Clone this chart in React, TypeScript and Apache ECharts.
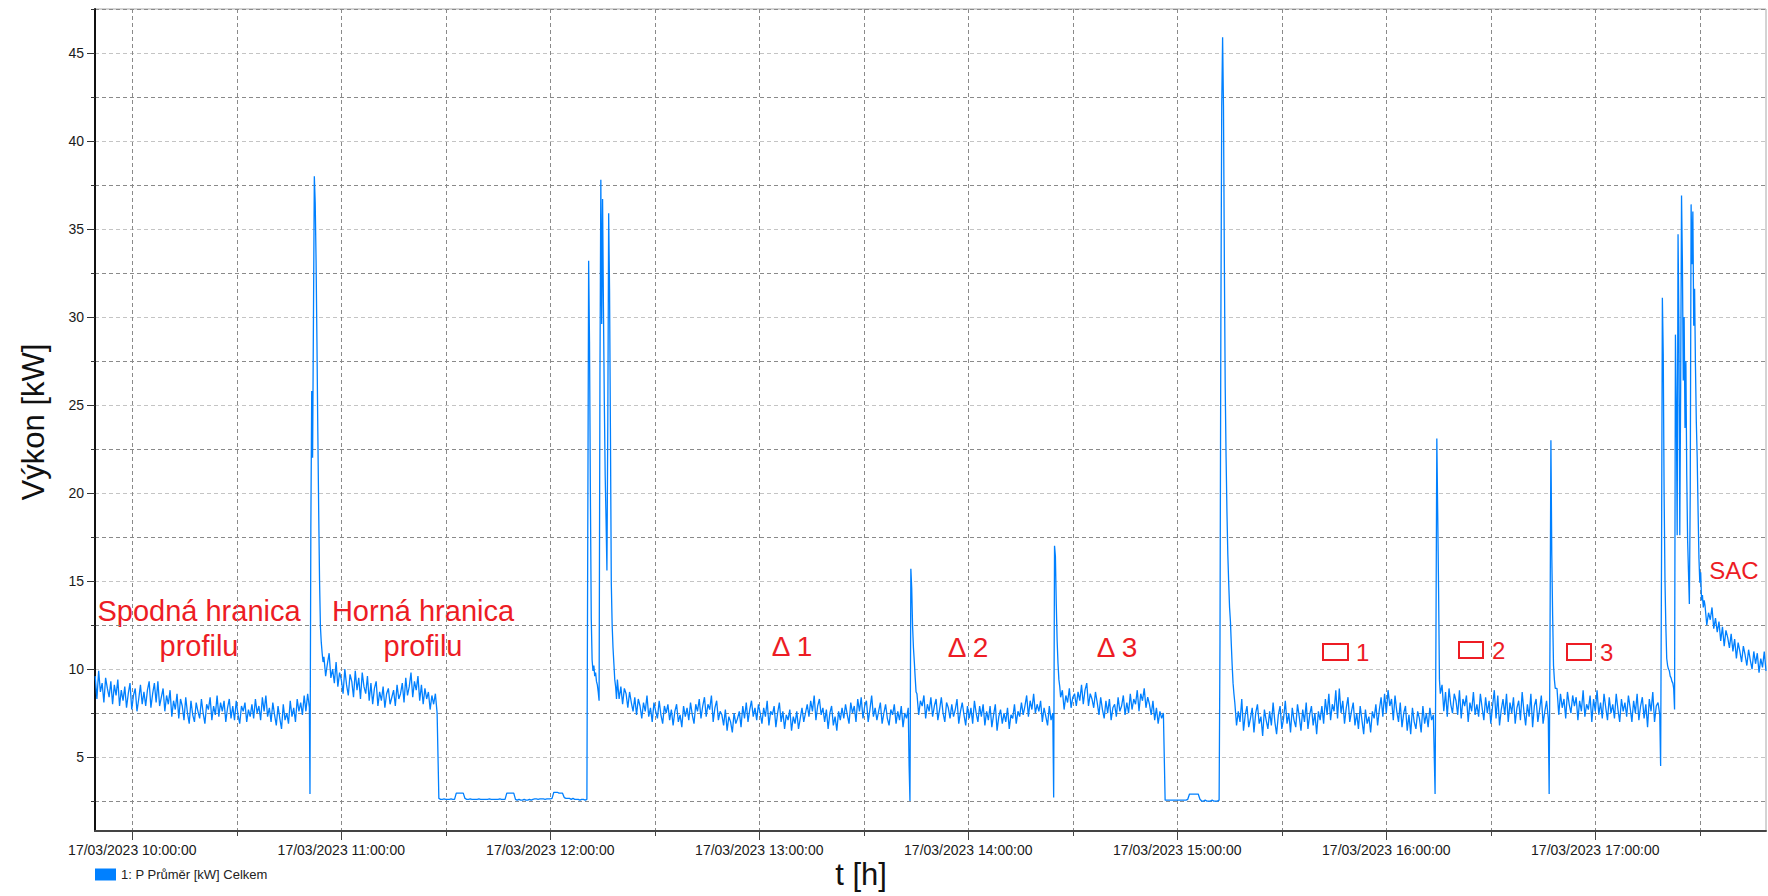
import React, { useEffect, useRef } from "react";
import * as echarts from "echarts";

const DATE_LABEL = "17/03/2023";
const SERIES_NAME = "1: P Průměr [kW] Celkem";
const Y_TITLE = "Výkon [kW]";
const X_TITLE = "t [h]";

const X_MIN = "09:49:17";
const X_MAX = "17:49:00";
const Y_MIN = 0.8;
const Y_MAX = 47.5;

const yTickValues = [2.5, 5, 7.5, 10, 12.5, 15, 17.5, 20, 22.5, 25, 27.5, 30, 32.5, 35, 37.5, 40, 42.5, 45, 47.5];
const yLabelValues = [5, 10, 15, 20, 25, 30, 35, 40, 45];
const xTickTimes = ["10:00", "10:30", "11:00", "11:30", "12:00", "12:30", "13:00", "13:30", "14:00", "14:30", "15:00", "15:30", "16:00", "16:30", "17:00", "17:30"];
const xLabelTimes = ["10:00", "11:00", "12:00", "13:00", "14:00", "15:00", "16:00", "17:00"];

// measured series, piece by piece (start clock, sample step in seconds, values in kW)
const bandA = [
  9.6, 8.3, 9.9, 8.7, 9.2, 8.1, 9.5, 8.9, 8.4, 9.3,
  8.0, 9.1, 8.5, 9.4, 7.9, 8.8, 8.2, 9.0, 7.8, 8.6,
  9.2, 7.7, 8.5, 8.9, 7.6, 8.3, 9.1, 8.0, 8.7, 7.9,
  8.8, 9.3, 7.8, 8.6, 9.2, 8.1, 9.3, 7.9, 8.4, 8.9,
  7.6, 8.5, 8.0, 8.8, 7.3, 8.2, 7.7, 8.6, 7.2, 8.3,
  7.9, 7.1, 8.4, 7.5, 6.9, 8.2, 7.4, 7.0, 8.1, 7.6,
  7.2, 8.3, 7.5, 6.9, 8.0, 7.7, 8.4, 7.1, 7.9, 7.4,
  8.5, 7.3, 8.1, 7.6, 8.2, 7.0, 7.8, 8.3, 7.2, 7.9,
  7.1, 8.2, 7.4, 6.9, 7.9, 7.6, 8.1, 7.0, 7.7, 7.3,
  8.0, 7.2, 8.3, 7.5, 7.9, 7.1, 8.4, 7.6, 8.5, 7.3,
  7.8, 7.0, 8.1, 7.4, 6.8, 7.9, 7.2, 6.6, 8.0, 7.1,
  7.5, 6.9, 8.2, 7.3, 7.8, 7.0, 8.3, 7.6, 8.1, 7.4,
  8.5, 7.6, 8.6, 7.8,
];
const spikeA = [2.9, 18.0, 25.8, 22.0, 30.0, 38.0, 36.5, 33.2, 28.6, 23.5, 19.0, 15.0, 12.4, 11.5, 10.9, 10.4];
const bandB = [
  10.7, 9.6, 10.3, 10.9, 9.5, 10.0, 9.2, 10.4, 9.0, 9.8,
  9.4, 8.6, 10.0, 9.1, 8.5, 9.7, 9.3, 8.4, 9.9, 8.8,
  9.5, 8.3, 9.8, 9.0, 8.6, 9.6, 8.2, 9.2, 8.0, 8.9,
  9.3, 7.9, 8.7, 8.2, 9.0, 7.8, 8.6, 8.9, 8.0, 8.4,
  8.8, 7.9, 9.1, 8.3, 8.6, 9.2, 8.1, 9.5, 8.5, 9.0,
  9.8, 8.4, 9.3, 8.8, 9.6, 8.2, 9.1, 8.0, 8.9, 8.3,
  8.7, 7.7, 8.5, 8.0, 8.6, 7.5,
];
const flatC = [
  2.65, 2.6, 2.6, 2.62, 2.6, 2.6, 2.6, 2.62, 2.6, 2.6,
  2.95, 2.95, 2.95, 2.95, 2.95, 2.65,
  2.6, 2.6, 2.62, 2.6, 2.6, 2.6, 2.6, 2.62, 2.6, 2.6, 2.6, 2.6, 2.6, 2.62, 2.6, 2.6, 2.6, 2.6, 2.6, 2.62, 2.6, 2.6, 2.6,
  2.95, 2.95, 2.95, 2.95, 2.95,
  2.6,
  2.55, 2.6, 2.55, 2.55, 2.6, 2.55, 2.55, 2.6, 2.55, 2.6,
  2.62, 2.62, 2.6, 2.62, 2.62, 2.62, 2.6, 2.62, 2.62, 2.62, 2.65,
  3.0, 3.0, 3.0, 2.95, 2.95, 2.95,
  2.7,
  2.65, 2.65, 2.65, 2.6, 2.65, 2.6, 2.6, 2.6, 2.55, 2.6, 2.6, 2.55, 2.6,
];
const spikeB = [
  17.7, 33.2, 28.6, 20.0, 12.9, 10.5, 9.9, 10.2, 9.6, 9.8,
  9.3, 9.1, 8.7, 8.2, 26.7, 37.8, 29.6, 36.7, 30.5, 25.2,
  21.0, 18.5, 15.6, 24.0, 35.9, 31.6, 23.7, 14.9, 12.5, 11.2,
  10.3, 9.4, 9.0, 8.3,
];
const bandD = [
  9.4, 8.3, 9.0, 8.0, 8.9, 8.6, 7.8, 8.7, 8.1, 7.6,
  8.4, 7.4, 8.3, 7.9, 7.2, 8.1, 7.6, 8.5, 7.3, 7.8,
  7.0, 8.1, 7.6, 7.2, 8.2, 7.4, 6.9, 7.9, 7.5, 8.0,
  7.1, 7.7, 6.8, 7.6, 8.0, 7.0, 7.4, 6.7, 7.9, 7.3,
  7.8, 7.1, 8.1, 7.4, 6.9, 8.0, 7.6, 8.3, 7.2, 7.9,
  8.4, 7.3, 8.0, 7.7, 8.5, 7.0, 7.8, 8.2, 7.1, 7.6,
  7.4, 6.8, 7.7, 6.5, 7.3, 7.0, 6.4, 7.5, 6.9, 7.2,
  7.6, 6.7, 7.9, 7.2, 8.1, 7.0, 7.7, 8.2, 7.3, 7.8,
  7.1, 8.0, 7.5, 6.9, 7.8, 7.3, 8.2, 6.8, 7.6, 7.4,
  7.9, 6.7, 7.5, 8.1, 7.0, 7.6, 6.6, 7.4, 7.1, 7.7,
  6.5, 7.3, 6.9, 7.6, 6.6, 7.2, 7.8, 7.0, 7.5, 8.0,
  7.3, 8.2, 7.6, 8.5, 7.1, 7.9, 8.3, 7.4, 7.8, 7.0,
  7.7, 6.6, 7.5, 7.9, 6.8, 7.3, 6.5, 7.6, 7.1, 7.8,
  7.2, 8.0, 7.4, 6.9, 8.1, 7.5, 7.9, 7.0, 8.3, 7.6,
  8.4, 7.2, 7.9, 8.2, 7.0, 7.7, 8.5, 7.3, 7.8, 7.1,
  7.6, 8.1, 6.9, 7.5, 8.0, 7.2, 6.8, 7.7, 7.4, 8.0,
  6.9, 7.6, 7.1, 7.9, 6.7, 7.5, 7.2, 7.8,
];
const spikeC = [4.5, 2.5, 15.7, 14.6, 12.4, 11.2, 10.4, 9.5, 8.7];
const bandE = [
  8.6, 7.4, 8.2, 7.9, 8.5, 7.2, 8.0, 7.6, 8.4, 7.3,
  7.9, 8.3, 7.1, 7.7, 8.4, 7.5, 7.0, 8.1, 7.8, 7.2,
  8.0, 7.3, 7.7, 8.3, 6.9, 7.6, 8.1, 7.4, 6.8, 7.9,
  7.2, 7.8, 6.9, 8.2, 7.5, 7.0, 7.9, 7.3, 8.0, 6.8,
  7.6, 7.1, 7.9, 6.7, 7.4, 8.0, 6.5, 7.3, 7.7, 6.9,
  7.5, 7.0, 7.8, 6.6, 7.4, 7.2, 8.0, 6.9, 7.6, 7.3,
  8.1, 7.4, 7.9, 8.5, 7.3, 8.2, 7.7, 8.6, 7.5, 8.0,
  7.6, 8.2, 7.0, 7.8, 7.3, 6.8, 7.9, 7.1, 7.5,
];
const spikeD = [2.7, 17.0, 16.4, 13.7, 11.6, 10.3, 9.4, 9.0, 8.4];
const bandF = [
  8.8, 7.7, 8.5, 8.1, 8.9, 7.8, 8.4, 8.6, 7.9, 8.7,
  8.2, 9.1, 8.0, 8.8, 9.2, 7.9, 8.6, 8.3, 7.8, 8.7,
  8.1, 7.4, 8.4, 7.7, 7.2, 8.2, 7.5, 8.3, 7.1, 7.8,
  8.0, 7.3, 8.4, 7.6, 7.9, 8.5, 7.4, 8.1, 7.5, 8.6,
  7.7, 8.3, 8.0, 8.8, 7.6, 8.6, 8.2, 8.9, 7.8, 8.4,
  8.0, 7.4, 8.2, 7.1, 7.8, 6.9, 7.6, 7.2, 7.5,
];
const flatG = [
  2.55, 2.55, 2.55, 2.55, 2.55, 2.55, 2.55, 2.55, 2.55, 2.55, 2.55, 2.55, 2.55,
  2.6,
  2.9, 2.9, 2.9, 2.9, 2.9, 2.9,
  2.6,
  2.5, 2.5, 2.55, 2.5, 2.5, 2.5, 2.55, 2.5, 2.5, 2.5, 2.55,
];
const spikeF = [11.6, 29.6, 42.0, 45.9, 42.0, 33.2, 26.0, 22.0, 18.9, 16.5, 14.9, 13.5, 12.7, 11.4, 10.2, 9.2, 8.6];
const bandH = [
  8.1, 6.8, 7.6, 7.0, 8.3, 6.5, 7.4, 7.9, 6.7, 7.2,
  7.8, 6.4, 7.5, 8.0, 6.9, 7.3, 6.2, 7.7, 7.1, 6.6,
  7.6, 6.8, 8.1, 7.0, 6.3, 7.4, 7.9, 6.6, 7.2, 8.2,
  6.9, 7.5, 6.4, 7.8, 7.1, 6.7, 8.0, 7.3, 6.5, 7.7,
  7.0, 8.1, 6.6, 7.4, 7.9, 6.8, 7.5, 6.3, 7.6, 7.1,
  7.9, 6.9, 8.3, 7.4, 8.6, 7.1, 8.0, 7.6, 8.8, 7.2,
  8.9, 7.5, 8.2, 6.9, 7.8, 8.4, 7.0, 7.6, 8.1, 6.8,
  7.5, 6.6, 7.9, 7.1, 6.3, 7.7, 6.9, 7.3, 6.4, 7.6,
  7.2, 8.0, 6.8, 7.7, 8.4, 7.3, 8.6, 7.5, 8.8, 7.9,
  8.3, 7.1, 8.5, 7.6, 7.0, 8.1, 6.7, 7.5, 7.9, 6.5,
  7.4, 6.3, 7.8, 7.0, 6.6, 7.6, 7.2, 6.4, 7.9, 6.9,
  7.5, 6.7, 7.8, 7.1, 7.4,
];
const spikeH = [2.9, 12.0, 23.1, 18.9, 14.6, 9.4, 8.6];
const bandI = [
  9.1, 7.6, 8.7, 7.3, 8.9, 8.0, 7.5, 8.6, 8.2, 7.4,
  8.8, 7.2, 8.3, 7.9, 8.5, 7.0, 8.1, 7.6, 8.7, 7.4,
  8.0, 7.3, 8.6, 7.8, 7.1, 8.4, 7.5, 8.2, 6.9, 7.9,
  8.8, 7.2, 8.5, 6.8, 7.7, 8.3, 7.4, 8.6, 7.0, 8.1,
  7.5, 8.4, 6.9, 7.8, 8.2, 7.1, 8.7, 7.6, 6.8, 8.0,
  7.3, 8.6, 6.7, 7.9, 8.3, 7.0, 7.7, 8.5, 6.9, 7.6,
  8.2, 7.2,
];
const spikeJ = [2.9, 12.0, 23.0, 16.5, 13.0, 10.2, 9.4, 8.9];
const bandK = [
  8.9, 7.4, 8.6, 7.8, 8.3, 7.2, 8.7, 8.0, 7.5, 8.5,
  7.9, 8.4, 7.1, 8.2, 7.6, 8.8, 7.3, 8.0, 7.7, 8.5,
  7.0, 8.3, 7.6, 8.8, 7.4, 8.1, 7.2, 8.6, 7.8, 7.1,
  8.4, 7.5, 8.0, 7.2, 8.6, 7.7, 7.0, 8.3, 7.6, 8.1,
  7.3, 8.5, 7.8, 7.0, 8.2, 7.5, 8.6, 7.1, 7.9, 8.4,
  7.2, 8.0, 6.7, 8.3, 7.6, 8.7, 7.0, 7.9, 8.1, 7.4,
];
const spikeL = [
  4.5, 15.9, 31.1, 27.9, 20.0, 15.0, 12.4, 10.6, 10.2, 10.0,
  9.9, 9.6, 9.5, 9.3, 9.2, 8.9, 7.7, 29.0, 25.0, 17.6,
  34.7, 29.4, 17.6, 26.0, 36.9, 33.1, 26.4, 30.0, 23.7, 27.5,
  21.0, 17.3, 15.5, 13.7, 20.0, 36.4, 33.0, 36.0, 29.5, 31.6,
  27.2, 24.0, 22.0, 19.0, 16.3, 14.9, 15.5, 13.9, 14.2, 13.5,
  13.9,
];
const bandM = [
  13.6, 12.5, 13.2, 12.8, 13.5, 12.3, 12.9, 12.1, 12.7, 11.6,
  12.4, 11.3, 12.2, 11.8, 11.2, 12.0, 11.0, 11.7, 10.6, 11.5,
  11.0, 10.4, 11.3, 10.8, 10.2, 11.1, 10.5, 10.0, 11.0, 10.3,
  10.9, 9.8, 10.6, 10.1, 11.0, 9.9,
];

// noisy: true marks the 30 s pieces whose fast noise renders as a dense filled trace
const segments = [
  { start: "09:49:20", step: 30, values: bandA, noisy: true },
  { start: "10:51:00", step: 15, values: spikeA, noisy: false },
  { start: "10:55:00", step: 30, values: bandB, noisy: true },
  { start: "11:28:00", step: 30, values: flatC, noisy: false },
  { start: "12:10:45", step: 15, values: spikeB, noisy: false },
  { start: "12:19:15", step: 30, values: bandD, noisy: true },
  { start: "13:43:00", step: 15, values: spikeC, noisy: false },
  { start: "13:45:15", step: 30, values: bandE, noisy: true },
  { start: "14:24:30", step: 15, values: spikeD, noisy: false },
  { start: "14:27:00", step: 30, values: bandF, noisy: true },
  { start: "14:56:30", step: 30, values: flatG, noisy: false },
  { start: "15:12:15", step: 15, values: spikeF, noisy: false },
  { start: "15:16:30", step: 30, values: bandH, noisy: true },
  { start: "16:14:00", step: 15, values: spikeH, noisy: false },
  { start: "16:16:00", step: 30, values: bandI, noisy: true },
  { start: "16:46:45", step: 15, values: spikeJ, noisy: false },
  { start: "16:49:00", step: 30, values: bandK, noisy: true },
  { start: "17:18:45", step: 15, values: spikeL, noisy: false },
  { start: "17:31:30", step: 30, values: bandM, noisy: true },
];

function toMin(clock: string): number {
  const p = clock.split(":").map(Number);
  return p[0] * 60 + p[1] + (p[2] || 0) / 60;
}
const pad = (n: number) => (n < 10 ? "0" + n : "" + n);

const FONT = "'Liberation Sans', Arial, sans-serif";
const RED = "#ed1c24";
const BLUE = "#0080ff";

export default function App() {
  const ref = useRef<HTMLDivElement>(null);
  useEffect(() => {
    if (!ref.current) return;
    const chart = echarts.init(ref.current, undefined, { renderer: "svg" });
    const data: number[][] = [];
    const bandLow: any[] = [];
    const bandSpan: any[] = [];
    segments.forEach((seg) => {
      const t0 = toMin(seg.start);
      const dt = seg.step / 60;
      const vals = seg.values;
      vals.forEach((v, i) => {
        const t = t0 + i * dt;
        data.push([t, v]);
        if (seg.noisy) {
          // full vertical extent swept by the trace around this sample
          const win = [vals[Math.max(0, i - 1)], v, vals[Math.min(vals.length - 1, i + 1)]];
          const lo = Math.min(...win);
          const hi = Math.max(...win);
          bandLow.push([t, lo]);
          bandSpan.push([t, hi - lo]);
        }
      });
      if (seg.noisy) {
        const tEnd = t0 + (vals.length - 1) * dt + dt / 2;
        bandLow.push([tEnd, null]);
        bandSpan.push([tEnd, null]);
      }
    });
    const xMin = toMin(X_MIN);
    const xMax = toMin(X_MAX);
    const xTicks = xTickTimes.map(toMin);
    const xLabels = xLabelTimes.map(toMin);
    const fmtX = (v: number) => {
      const h = Math.floor(v / 60);
      const m = Math.round(v - h * 60);
      return `${DATE_LABEL} ${pad(h)}:${pad(m)}:00`;
    };
    const textEl = (text: string, x: number, y: number, size: number, extra: any = {}) => ({
      type: "text",
      x,
      y,
      ...extra,
      style: {
        text,
        fill: extra.fill || RED,
        fontSize: size,
        fontFamily: FONT,
        align: extra.align || "center",
        verticalAlign: "middle",
        lineHeight: extra.lineHeight,
      },
    });
    const boxEl = (x: number, y: number, w: number, h: number) => ({
      type: "rect",
      shape: { x, y, width: w, height: h },
      style: { fill: "none", stroke: RED, lineWidth: 2 },
    });

    chart.setOption({
      animation: false,
      textStyle: { fontFamily: FONT },
      grid: { left: 95, right: 2, top: 9, bottom: 65, show: true, borderColor: "#a8a8a8", borderWidth: 1 },
      legend: {
        left: 95,
        top: 868,
        padding: 0,
        icon: "rect",
        itemWidth: 21,
        itemHeight: 12,
        itemGap: 5,
        textStyle: { fontSize: 13, color: "#222", fontFamily: FONT },
        data: [{ name: SERIES_NAME }],
      },
      xAxis: [
        {
          type: "value",
          position: "bottom",
          min: xMin,
          max: xMax,
          axisLine: { show: true, lineStyle: { color: "#444", width: 2 } },
          axisTick: { show: true, customValues: xTicks, length: 5, lineStyle: { color: "#444" } },
          axisLabel: { customValues: xLabels, formatter: fmtX, fontSize: 14, color: "#1a1a1a", margin: 12 },
          splitLine: { show: true, lineStyle: { color: "#8a8a8a", type: [4, 3], width: 1 } },
        },
        {
          type: "value",
          position: "bottom",
          min: xMin,
          max: xMax,
          axisLine: { show: false },
          axisTick: { show: true, customValues: xLabels, length: 9, lineStyle: { color: "#444" } },
          axisLabel: { show: false },
          splitLine: { show: false },
        },
      ],
      yAxis: [
        {
          type: "value",
          position: "left",
          min: Y_MIN,
          max: Y_MAX,
          axisLine: { show: true, lineStyle: { color: "#111", width: 2 } },
          axisTick: { show: true, customValues: yTickValues, length: 4, lineStyle: { color: "#333" } },
          axisLabel: { customValues: yLabelValues, fontSize: 14, color: "#1a1a1a", margin: 11 },
          splitLine: { show: true, lineStyle: { color: ["#8a8a8a", "#c4c4c4"], type: [4, 3], width: 1 } },
        },
        {
          type: "value",
          position: "left",
          min: Y_MIN,
          max: Y_MAX,
          axisLine: { show: false },
          axisTick: { show: true, customValues: yLabelValues, length: 8, lineStyle: { color: "#333" } },
          axisLabel: { show: false },
          splitLine: { show: false },
        },
      ],
      series: [
        {
          name: "bandLow",
          type: "line",
          data: bandLow,
          stack: "band",
          showSymbol: false,
          symbol: "none",
          connectNulls: false,
          lineStyle: { width: 0, opacity: 0 },
          silent: true,
          z: 2,
        },
        {
          name: "bandSpan",
          type: "line",
          data: bandSpan,
          stack: "band",
          showSymbol: false,
          symbol: "none",
          connectNulls: false,
          lineStyle: { width: 0, opacity: 0 },
          areaStyle: { color: BLUE, opacity: 1 },
          silent: true,
          z: 2,
        },
        {
          name: SERIES_NAME,
          type: "line",
          xAxisIndex: 0,
          yAxisIndex: 0,
          data,
          showSymbol: false,
          symbol: "none",
          lineStyle: { width: 1.3, color: BLUE },
          itemStyle: { color: BLUE },
          z: 3,
        },
      ],
      graphic: [
        textEl(Y_TITLE, 33, 422, 31, { rotation: Math.PI / 2, fill: "#111" }),
        textEl(X_TITLE, 861, 874, 31, { fill: "#111" }),
        textEl("Spodná hranica\nprofilu", 199, 628, 29, { lineHeight: 35 }),
        textEl("Horná hranica\nprofilu", 423, 628, 29, { lineHeight: 35 }),
        textEl("Δ 1", 792, 646, 28),
        textEl("Δ 2", 968, 647, 28),
        textEl("Δ 3", 1117, 647, 28),
        boxEl(1323, 644, 25, 16),
        textEl("1", 1356, 652, 24, { align: "left" }),
        boxEl(1459, 642, 24, 16),
        textEl("2", 1492, 650, 24, { align: "left" }),
        boxEl(1567, 644, 24, 16),
        textEl("3", 1600, 652, 24, { align: "left" }),
        textEl("SAC", 1734, 570, 24),
      ],
    });
    return () => chart.dispose();
  }, []);
  return <div ref={ref} style={{ position: "absolute", left: 0, top: 0, width: 1768, height: 896 }} />;
}
